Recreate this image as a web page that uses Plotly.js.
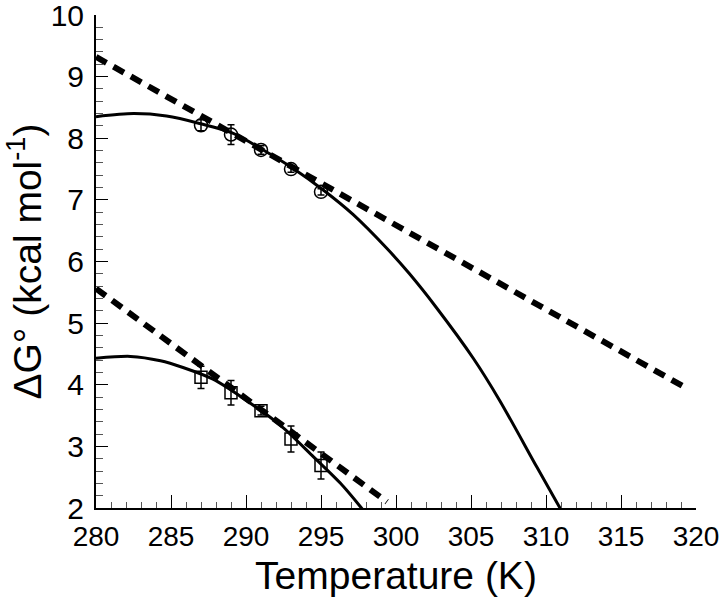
<!DOCTYPE html>
<html>
<head>
<meta charset="utf-8">
<script src="https://cdn.plot.ly/plotly-3.0.1.min.js"></script>
<style>
  body { margin: 0; background: #fff; }
  #plot1 { width: 720px; height: 605px; }
</style>
</head>
<body>
<div id="plot1"></div>
<script>
// Measured points (open symbols) with error bars
var tempPts = [287, 289, 291, 293, 295];
var dgUpper = [8.21, 8.06, 7.81, 7.50, 7.13];
var errUpper = [0.09, 0.16, 0.07, 0.05, 0.05];
var dgLower = [4.12, 3.87, 3.58, 3.12, 2.69];
var errLower = [0.18, 0.20, 0.07, 0.21, 0.22];

// Solid curves
var tUpperCurve = [280.0, 282.5, 284.7, 286.9, 289.15, 291.15, 293.15, 295.15, 297.15, 299.4, 300.9, 302.7, 305.15, 306.9, 309.4, 311.0];
var gUpperCurve = [8.35, 8.40, 8.36, 8.24, 8.08, 7.81, 7.51, 7.16, 6.76, 6.21, 5.80, 5.25, 4.43, 3.75, 2.66, 1.97];
var tLowerCurve = [280.0, 282.3, 284.3, 285.8, 287.8, 290.0, 292.3, 294.5, 296.3, 297.8];
var gLowerCurve = [4.43, 4.46, 4.39, 4.28, 4.09, 3.75, 3.34, 2.83, 2.40, 1.97];

// Dashed straight fits
var tUpperFit = [280, 319.4];
var gUpperFit = [9.32, 3.94];
var tLowerFit = [280, 299.4];
var gLowerFit = [5.56, 2.10];

var font = 'Liberation Sans, Arial, Helvetica, sans-serif';

function drawPlot1() {
	var solid = {color: '#000', width: 3, shape: 'spline', smoothing: 0.8};
	var dashed = {color: '#000', width: 6, dash: '12px,8px'};

	var traces = [
		{x: tUpperCurve, y: gUpperCurve, mode: 'lines', type: 'scatter', line: solid},
		{x: tLowerCurve, y: gLowerCurve, mode: 'lines', type: 'scatter', line: solid},
		{x: tUpperFit, y: gUpperFit, mode: 'lines', type: 'scatter', line: dashed},
		{x: tLowerFit, y: gLowerFit, mode: 'lines', type: 'scatter', line: dashed},
		{
			x: tempPts, y: dgUpper, mode: 'markers', type: 'scatter',
			marker: {symbol: 'circle-open', size: 13, color: '#000', line: {width: 1.5, color: '#000'}},
			error_y: {type: 'data', array: errUpper, visible: true, color: '#000', thickness: 1.5, width: 3.5}
		},
		{
			x: tempPts, y: dgLower, mode: 'markers', type: 'scatter',
			marker: {symbol: 'square-open', size: 12, color: '#000', line: {width: 1.5, color: '#000'}},
			error_y: {type: 'data', array: errLower, visible: true, color: '#000', thickness: 1.5, width: 3.5}
		}
	];

	var layout = {
		width: 720,
		height: 605,
		margin: {l: 96, r: 24, t: 15, b: 97},
		paper_bgcolor: '#fff',
		plot_bgcolor: '#fff',
		showlegend: false,
		font: {family: font, color: '#000', size: 30},
		xaxis: {
			range: [280, 320],
			tick0: 280, dtick: 5,
			ticks: 'inside', ticklen: 13, tickwidth: 1, tickcolor: '#000',
			minor: {dtick: 1, ticks: 'inside', ticklen: 6, tickwidth: 1, tickcolor: '#555'},
			showline: true, linewidth: 2, linecolor: '#000',
			showgrid: false, zeroline: false,
			ticklabeloverflow: 'allow',
			ticklabelstandoff: 2,
			tickfont: {family: font, size: 28, color: '#000'},
			title: {text: 'Temperature (K)', font: {family: font, size: 39, color: '#000'}, standoff: 11},
			automargin: false
		},
		yaxis: {
			range: [2, 10],
			tick0: 2, dtick: 1,
			ticks: 'inside', ticklen: 12, tickwidth: 1, tickcolor: '#000',
			minor: {dtick: 0.2, ticks: 'inside', ticklen: 7, tickwidth: 1, tickcolor: '#555'},
			showline: true, linewidth: 2, linecolor: '#000',
			showgrid: false, zeroline: false,
			ticklabeloverflow: 'allow',
			ticklabelstandoff: 4,
			tickfont: {family: font, size: 30, color: '#000'},
			title: {text: 'ΔG° (kcal mol<sup>-1</sup>)', font: {family: font, size: 39, color: '#000'}, standoff: 10},
			automargin: false
		}
	};

	Plotly.newPlot('plot1', traces, layout, {staticPlot: true});
}

drawPlot1();
</script>
</body>
</html>
